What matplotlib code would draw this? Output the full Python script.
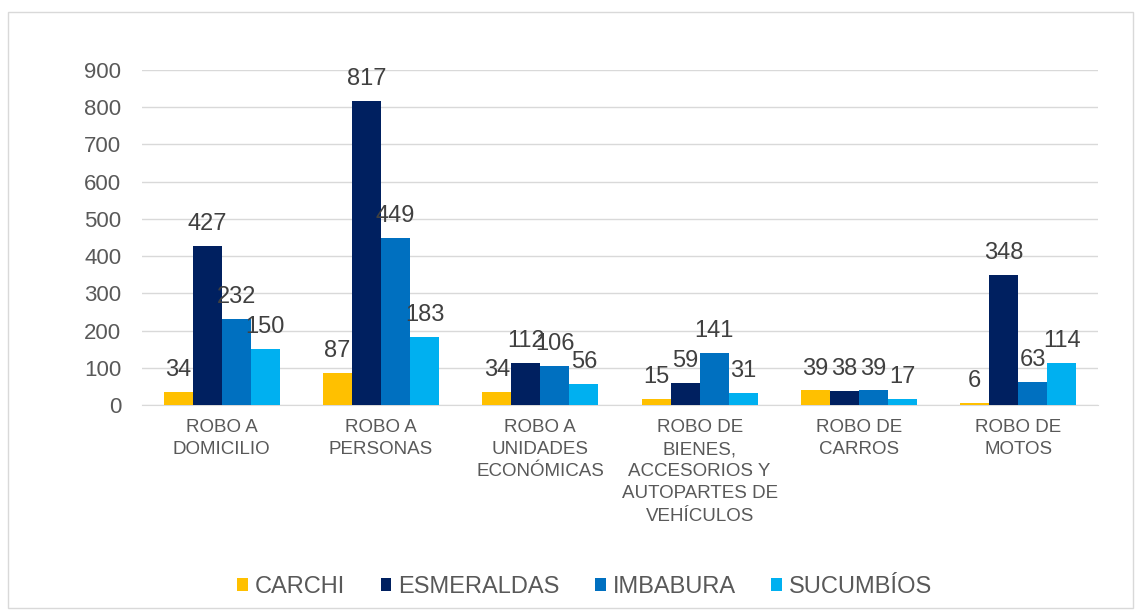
import matplotlib.pyplot as plt
import matplotlib.patches as mpatches
import numpy as np

plt.rcParams['font.family'] = ['Liberation Sans', 'DejaVu Sans']

categories = ["ROBO A\nDOMICILIO", "ROBO A\nPERSONAS", "ROBO A\nUNIDADES\nECONÓMICAS",
              "ROBO DE\nBIENES,\nACCESORIOS Y\nAUTOPARTES DE\nVEHÍCULOS",
              "ROBO DE\nCARROS", "ROBO DE\nMOTOS"]
series_names = ["CARCHI", "ESMERALDAS", "IMBABURA", "SUCUMBÍOS"]
carchi = [34, 87, 34, 15, 39, 6]
esmeraldas = [427, 817, 112, 59, 38, 348]
imbabura = [232, 449, 106, 141, 39, 63]
sucumbios = [150, 183, 56, 31, 17, 114]
colors = ["#FFC000", "#002060", "#0070C0", "#00B0F0"]

fig = plt.figure(figsize=(11.42, 6.16), dpi=100)
ax = fig.add_axes([142 / 1142, 1 - 405 / 616, (1098 - 142) / 1142, (405 - 70) / 616])

# outer chart border
fig.patches.append(mpatches.Rectangle((8 / 1142, 1 - 608 / 616), 1125 / 1142, 596 / 616,
                                      transform=fig.transFigure, fill=False,
                                      edgecolor="#d9d9d9", linewidth=1))

x = np.arange(len(categories))
w = 0.182
for k, (vals, name) in enumerate(zip([carchi, esmeraldas, imbabura, sucumbios], series_names)):
    pos = x + (k - 1.5) * w
    ax.bar(pos, vals, w, color=colors[k], label=name, zorder=3)
    for px, v in zip(pos, vals):
        ax.annotate(str(v), (px, v), xytext=(0, 11.5), textcoords="offset points",
                    ha="center", va="baseline", fontsize=17, color="#404040", zorder=4)

ax.set_xlim(-0.5, len(categories) - 0.5)
ax.set_ylim(0, 900)
ax.set_yticks(range(0, 901, 100))
ax.grid(axis="y", color="#d9d9d9", linewidth=1, zorder=0)
for s in ["top", "right", "left"]:
    ax.spines[s].set_visible(False)
ax.spines["bottom"].set_color("#d9d9d9")
ax.tick_params(axis="both", length=0)
ax.tick_params(axis="y", labelsize=16, labelcolor="#595959", pad=15)
ax.set_xticks(x)
ax.set_xticklabels(categories, fontsize=13.5, color="#595959", linespacing=1.4)
ax.tick_params(axis="x", pad=10)

fig.legend(loc="center", bbox_to_anchor=(0.512, 1 - 587 / 616), ncol=4, frameon=False,
           fontsize=17, handlelength=0.45, handleheight=0.45, handletextpad=0.3,
           columnspacing=1.5, labelcolor="#595959")

fig.savefig("out.png", dpi=100)
